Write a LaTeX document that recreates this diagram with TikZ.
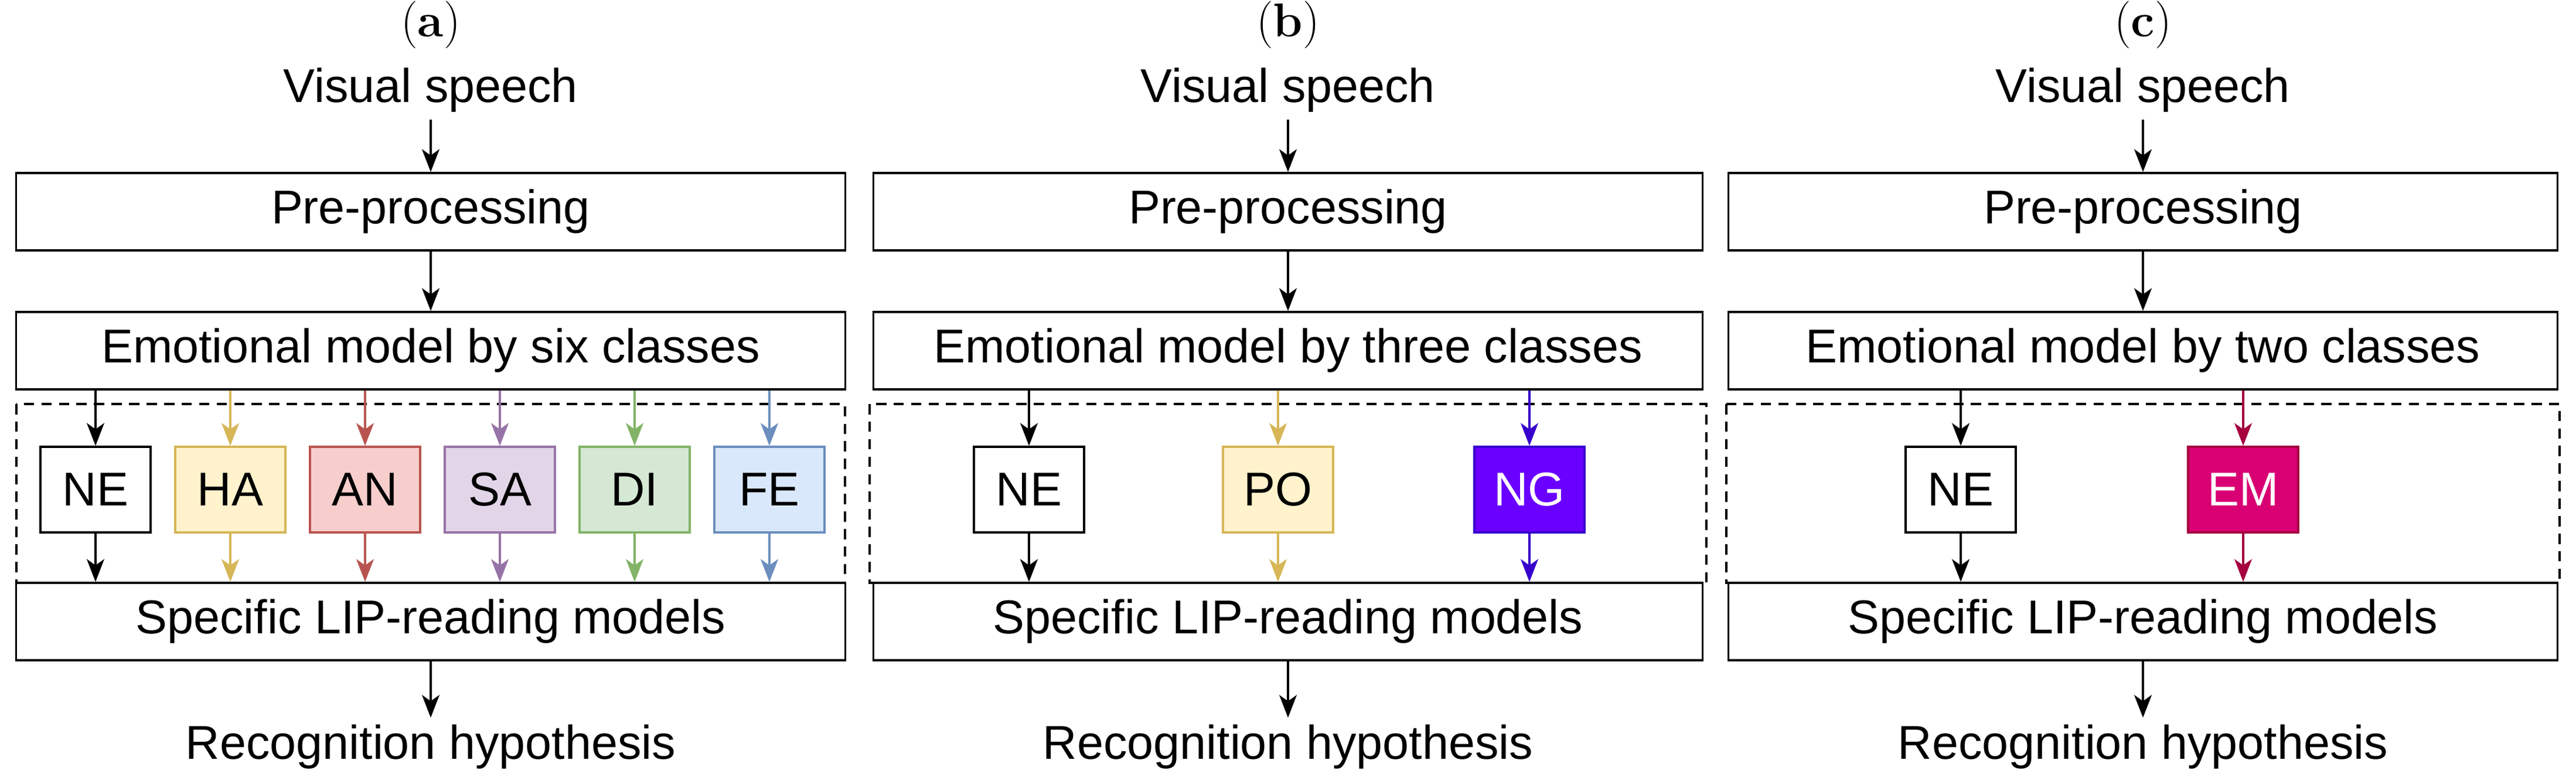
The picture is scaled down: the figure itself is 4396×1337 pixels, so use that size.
\documentclass[tikz,border=0pt]{standalone}
\usepackage{fontspec}
\setmainfont{Liberation Sans}
\newfontfamily\lmserif{Latin Modern Roman}
\usetikzlibrary{arrows.meta,positioning}
\definecolor{haF}{HTML}{FFF2CC}\definecolor{haD}{HTML}{D6B656}
\definecolor{anF}{HTML}{F8CECC}\definecolor{anD}{HTML}{B85450}
\definecolor{saF}{HTML}{E1D5E7}\definecolor{saD}{HTML}{9673A6}
\definecolor{diF}{HTML}{D5E8D4}\definecolor{diD}{HTML}{82B366}
\definecolor{feF}{HTML}{DAE8FC}\definecolor{feD}{HTML}{6C8EBF}
\definecolor{ngF}{HTML}{6A00FF}\definecolor{ngD}{HTML}{3700CC}
\definecolor{emF}{HTML}{D80073}\definecolor{emD}{HTML}{A50040}
\tikzset{
  bigbox/.style={draw, line width=1pt, minimum width=14.14cm, minimum height=1.32cm, inner sep=0pt, font=\fontsize{23}{26}\selectfont},
  small/.style={line width=1pt, minimum width=1.88cm, minimum height=1.46cm, inner sep=0pt, font=\fontsize{23}{26}\selectfont},
  plain/.style={font=\fontsize{23}{26}\selectfont},
  lbl/.style={font=\lmserif\fontsize{23}{26}\selectfont},
  arr/.style={-{Stealth[length=11pt,width=8.5pt,inset=3pt]}, line width=1pt},
  frame/.style={dash pattern=on 5pt off 3.5pt, line width=1pt},
}
\begin{document}
\begin{tikzpicture}[x=0.01cm,y=-0.01cm]
\useasboundingbox (0,0) rectangle (4396,1337);

% panel (a)
\node[lbl] (la) at (735,42) {(\textbf{a})};
\node[plain] (va) at (735,154) {Visual speech};
\node[bigbox] (pa) at (735,361) {Pre-processing};
\node[bigbox] (ea) at (735,598) {Emotional model by six classes};
\node[bigbox] (sa) at (735,1060) {Specific LIP-reading models};
\node[plain] (ra) at (735,1274) {Recognition hypothesis};
\draw[frame] (28,689) rectangle (1442,994);
\draw[arr] (va) -- (pa);
\draw[arr] (pa) -- (ea);
\draw[arr] (sa) -- (ra);
\foreach \n/\t/\f/\d/\x in {a1/NE/white/black/163, a2/HA/haF/haD/393, a3/AN/anF/anD/623, a4/SA/saF/saD/853, a5/DI/diF/diD/1083, a6/FE/feF/feD/1313}{
  \node[small, draw=\d, fill=\f] (\n) at (\x,835) {\t};
  \draw[arr, \d] (ea.south -| \n) -- (\n);
  \draw[arr, \d] (\n) -- (sa.north -| \n);
}

% panel (b)
\node[lbl] (lb) at (2198,42) {(\textbf{b})};
\node[plain] (vb) at (2198,154) {Visual speech};
\node[bigbox] (pb) at (2198,361) {Pre-processing};
\node[bigbox] (eb) at (2198,598) {Emotional model by three classes};
\node[bigbox] (sb) at (2198,1060) {Specific LIP-reading models};
\node[plain] (rb) at (2198,1274) {Recognition hypothesis};
\draw[frame] (1484,689) rectangle (2912,994);
\draw[arr] (vb) -- (pb);
\draw[arr] (pb) -- (eb);
\draw[arr] (sb) -- (rb);
\foreach \n/\t/\f/\d/\c/\x in {b1/NE/white/black/black/1756, b2/PO/haF/haD/black/2181, b3/NG/ngF/ngD/white/2610}{
  \node[small, draw=\d, fill=\f, text=\c] (\n) at (\x,835) {\t};
  \draw[arr, \d] (eb.south -| \n) -- (\n);
  \draw[arr, \d] (\n) -- (sb.north -| \n);
}

% panel (c)
\node[lbl] (lc) at (3657,42) {(\textbf{c})};
\node[plain] (vc) at (3657,154) {Visual speech};
\node[bigbox] (pc) at (3657,361) {Pre-processing};
\node[bigbox] (ec) at (3657,598) {Emotional model by two classes};
\node[bigbox] (sc) at (3657,1060) {Specific LIP-reading models};
\node[plain] (rc) at (3657,1274) {Recognition hypothesis};
\draw[frame] (2946,689) rectangle (4368,994);
\draw[arr] (vc) -- (pc);
\draw[arr] (pc) -- (ec);
\draw[arr] (sc) -- (rc);
\foreach \n/\t/\f/\d/\c/\x in {c1/NE/white/black/black/3346, c2/EM/emF/emD/white/3828}{
  \node[small, draw=\d, fill=\f, text=\c] (\n) at (\x,835) {\t};
  \draw[arr, \d] (ec.south -| \n) -- (\n);
  \draw[arr, \d] (\n) -- (sc.north -| \n);
}
\end{tikzpicture}
\end{document}
